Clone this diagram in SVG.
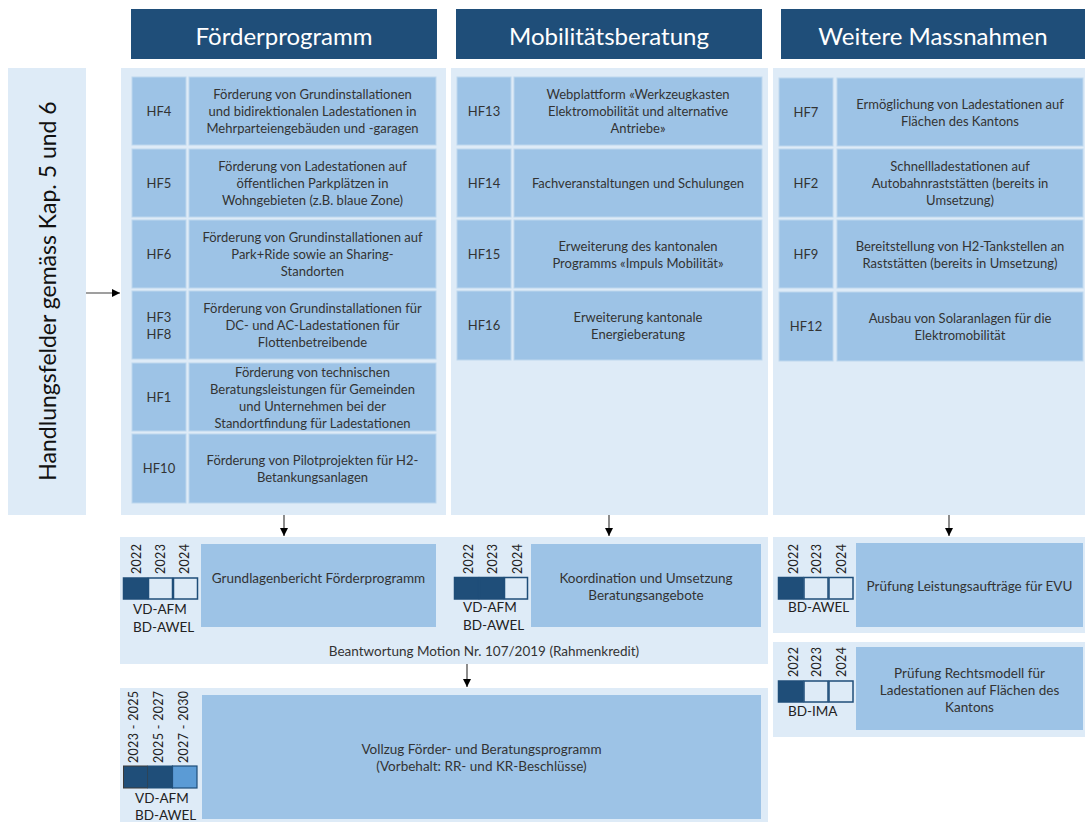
<svg xmlns="http://www.w3.org/2000/svg" width="1085" height="822" viewBox="0 0 1085 822">
<style>
text{font-family:Lato,"Open Sans","Liberation Sans",sans-serif;fill:#333;}
.hdr{fill:#1f4e79;}
.hdrt{fill:#fff;font-size:24px;text-anchor:middle;dominant-baseline:central;}
.pan{fill:#deebf7;}
.cell{fill:#9dc3e6;stroke:#bdd7ee;stroke-width:1;}
.t{font-size:13px;text-anchor:middle;dominant-baseline:central;}
.lab{font-size:13.5px;dominant-baseline:central;fill:#222;}
.yr{font-size:12.5px;dominant-baseline:central;fill:#222;letter-spacing:0.3px;}
.yd{fill:#1f4e79;stroke:#1f4e79;stroke-width:1.5;}
.ye{fill:#deebf7;stroke:#1f4e79;stroke-width:1.5;}
.conn line{stroke:#404040;stroke-width:1.2;}
</style>
<defs>
<marker id="ah" viewBox="0 0 10 10" refX="10" refY="5" markerWidth="8" markerHeight="8" markerUnits="userSpaceOnUse" orient="auto">
<path d="M0,0 L10,5 L0,10 z" fill="#000"/>
</marker>
</defs>

<!-- headers -->
<g id="hdr-foerder"><rect class="hdr" x="131" y="9" width="306" height="50"/><text class="hdrt" x="284" y="35">Förderprogramm</text></g>
<g id="hdr-mob"><rect class="hdr" x="456" y="9" width="306" height="50"/><text class="hdrt" x="609" y="35">Mobilitätsberatung</text></g>
<g id="hdr-weitere"><rect class="hdr" x="781" y="9" width="304" height="50"/><text class="hdrt" x="933" y="35">Weitere Massnahmen</text></g>

<!-- left label -->
<g id="handlungsfelder"><rect class="pan" x="8" y="68" width="78" height="447"/>
<text transform="translate(47,291) rotate(-90)" style="font-size:23px;text-anchor:middle;dominant-baseline:central;fill:#111">Handlungsfelder gemäss Kap. 5 und 6</text></g>

<!-- panels -->
<g id="panel-foerder"><rect class="pan" x="121" y="68" width="325" height="447"/></g>
<g id="panel-mob"><rect class="pan" x="451" y="68" width="317" height="447"/></g>
<g id="panel-weitere"><rect class="pan" x="773" y="68" width="312" height="447"/></g>

<!-- Förderprogramm rows -->
<g id="hf4"><rect class="cell" x="132" y="77" width="54" height="68"/><rect class="cell" x="189" y="77" width="247" height="68"/>
<text class="t" x="159" y="111">HF4</text>
<text class="t" x="312.5" y="94">Förderung von Grundinstallationen</text>
<text class="t" x="312.5" y="111">und bidirektionalen Ladestationen in</text>
<text class="t" x="312.5" y="128">Mehrparteiengebäuden und -garagen</text></g>
<g id="hf5"><rect class="cell" x="132" y="149" width="54" height="68"/><rect class="cell" x="189" y="149" width="247" height="68"/>
<text class="t" x="159" y="183">HF5</text>
<text class="t" x="312.5" y="166">Förderung von Ladestationen auf</text>
<text class="t" x="312.5" y="183">öffentlichen Parkplätzen in</text>
<text class="t" x="312.5" y="200">Wohngebieten (z.B. blaue Zone)</text></g>
<g id="hf6"><rect class="cell" x="132" y="220" width="54" height="68"/><rect class="cell" x="189" y="220" width="247" height="68"/>
<text class="t" x="159" y="254">HF6</text>
<text class="t" x="312.5" y="237">Förderung von Grundinstallationen auf</text>
<text class="t" x="312.5" y="254">Park+Ride sowie an Sharing-</text>
<text class="t" x="312.5" y="271">Standorten</text></g>
<g id="hf3-hf8"><rect class="cell" x="132" y="291" width="54" height="68"/><rect class="cell" x="189" y="291" width="247" height="68"/>
<text class="t" x="159" y="316.5">HF3</text><text class="t" x="159" y="333.5">HF8</text>
<text class="t" x="312.5" y="308">Förderung von Grundinstallationen für</text>
<text class="t" x="312.5" y="325">DC- und AC-Ladestationen für</text>
<text class="t" x="312.5" y="342">Flottenbetreibende</text></g>
<g id="hf1"><rect class="cell" x="132" y="363" width="54" height="68"/><rect class="cell" x="189" y="363" width="247" height="68"/>
<text class="t" x="159" y="397">HF1</text>
<text class="t" x="312.5" y="371.5">Förderung von technischen</text>
<text class="t" x="312.5" y="388.5">Beratungsleistungen für Gemeinden</text>
<text class="t" x="312.5" y="405.5">und Unternehmen bei der</text>
<text class="t" x="312.5" y="422.5">Standortfindung für Ladestationen</text></g>
<g id="hf10"><rect class="cell" x="132" y="434" width="54" height="69"/><rect class="cell" x="189" y="434" width="247" height="69"/>
<text class="t" x="159" y="468">HF10</text>
<text class="t" x="312.5" y="459.5">Förderung von Pilotprojekten für H2-</text>
<text class="t" x="312.5" y="476.5">Betankungsanlagen</text></g>

<!-- Mobilitätsberatung rows -->
<g id="hf13"><rect class="cell" x="457" y="77" width="54" height="68"/><rect class="cell" x="514" y="77" width="248" height="68"/>
<text class="t" x="484" y="111">HF13</text>
<text class="t" x="638" y="94">Webplattform «Werkzeugkasten</text>
<text class="t" x="638" y="111">Elektromobilität und alternative</text>
<text class="t" x="638" y="128">Antriebe»</text></g>
<g id="hf14"><rect class="cell" x="457" y="149" width="54" height="68"/><rect class="cell" x="514" y="149" width="248" height="68"/>
<text class="t" x="484" y="183">HF14</text>
<text class="t" x="638" y="183">Fachveranstaltungen und Schulungen</text></g>
<g id="hf15"><rect class="cell" x="457" y="220" width="54" height="68"/><rect class="cell" x="514" y="220" width="248" height="68"/>
<text class="t" x="484" y="254">HF15</text>
<text class="t" x="638" y="245.5">Erweiterung des kantonalen</text>
<text class="t" x="638" y="262.5">Programms «Impuls Mobilität»</text></g>
<g id="hf16"><rect class="cell" x="457" y="291" width="54" height="69"/><rect class="cell" x="514" y="291" width="248" height="69"/>
<text class="t" x="484" y="325">HF16</text>
<text class="t" x="638" y="316.5">Erweiterung kantonale</text>
<text class="t" x="638" y="333.5">Energieberatung</text></g>

<!-- Weitere Massnahmen rows -->
<g id="hf7"><rect class="cell" x="779" y="78" width="54" height="68"/><rect class="cell" x="837" y="78" width="246" height="68"/>
<text class="t" x="806" y="112">HF7</text>
<text class="t" x="960" y="103.5">Ermöglichung von Ladestationen auf</text>
<text class="t" x="960" y="120.5">Flächen des Kantons</text></g>
<g id="hf2"><rect class="cell" x="779" y="149" width="54" height="68"/><rect class="cell" x="837" y="149" width="246" height="68"/>
<text class="t" x="806" y="183">HF2</text>
<text class="t" x="960" y="166">Schnellladestationen auf</text>
<text class="t" x="960" y="183">Autobahnraststätten (bereits in</text>
<text class="t" x="960" y="200">Umsetzung)</text></g>
<g id="hf9"><rect class="cell" x="779" y="220" width="54" height="68"/><rect class="cell" x="837" y="220" width="246" height="68"/>
<text class="t" x="806" y="254">HF9</text>
<text class="t" x="960" y="245.5">Bereitstellung von H2-Tankstellen an</text>
<text class="t" x="960" y="262.5">Raststätten (bereits in Umsetzung)</text></g>
<g id="hf12"><rect class="cell" x="779" y="292" width="54" height="69"/><rect class="cell" x="837" y="292" width="246" height="69"/>
<text class="t" x="806" y="326">HF12</text>
<text class="t" x="960" y="317.5">Ausbau von Solaranlagen für die</text>
<text class="t" x="960" y="334.5">Elektromobilität</text></g>

<!-- lower: Beantwortung panel -->
<g id="beantwortung"><rect class="pan" x="120" y="537" width="648" height="127"/>
<text class="t" x="484" y="651" style="font-size:13.5px">Beantwortung Motion Nr. 107/2019 (Rahmenkredit)</text></g>

<g id="grundlagenbericht">
<rect class="cell" x="201" y="544" width="235" height="83" style="stroke:none"/>
<text class="t" x="318.5" y="578" style="font-size:13.5px">Grundlagenbericht Förderprogramm</text>
<rect class="yd" x="123.5" y="578" width="24" height="21"/><rect class="ye" x="148.5" y="578" width="24" height="21"/><rect class="ye" x="173.5" y="578" width="24" height="21"/>
<text class="yr" transform="translate(136,574) rotate(-90)">2022</text>
<text class="yr" transform="translate(160,574) rotate(-90)">2023</text>
<text class="yr" transform="translate(184,574) rotate(-90)">2024</text>
<text class="lab" x="133" y="609">VD-AFM</text>
<text class="lab" x="133" y="627">BD-AWEL</text>
</g>

<g id="koordination">
<rect class="cell" x="531" y="544" width="230" height="83" style="stroke:none"/>
<text class="t" x="646" y="578" style="font-size:13.5px">Koordination und Umsetzung</text>
<text class="t" x="646" y="595" style="font-size:13.5px">Beratungsangebote</text>
<rect class="yd" x="454.5" y="577.5" width="24" height="21.5"/><rect class="yd" x="479.5" y="577.5" width="24" height="21.5"/><rect class="ye" x="504.5" y="577.5" width="23" height="21.5"/>
<text class="yr" transform="translate(468,574) rotate(-90)">2022</text>
<text class="yr" transform="translate(492,574) rotate(-90)">2023</text>
<text class="yr" transform="translate(517,574) rotate(-90)">2024</text>
<text class="lab" x="463" y="607">VD-AFM</text>
<text class="lab" x="463" y="625">BD-AWEL</text>
</g>

<g id="pruefung-evu"><rect class="pan" x="773" y="537" width="312" height="96"/>
<rect class="cell" x="856" y="543" width="227" height="84" style="stroke:none"/>
<text class="t" x="969.5" y="586" style="font-size:13.5px">Prüfung Leistungsaufträge für EVU</text>
<rect class="yd" x="778.5" y="577.5" width="24.5" height="21.5"/><rect class="ye" x="804" y="577.5" width="24" height="21.5"/><rect class="ye" x="829" y="577.5" width="24" height="21.5"/>
<text class="yr" transform="translate(793,574) rotate(-90)">2022</text>
<text class="yr" transform="translate(816,574) rotate(-90)">2023</text>
<text class="yr" transform="translate(841,574) rotate(-90)">2024</text>
<text class="lab" x="788" y="607">BD-AWEL</text>
</g>

<g id="pruefung-rechtsmodell"><rect class="pan" x="773" y="642" width="312" height="95"/>
<rect class="cell" x="856" y="647" width="227" height="83" style="stroke:none"/>
<text class="t" x="969.5" y="673" style="font-size:13.5px">Prüfung Rechtsmodell für</text>
<text class="t" x="969.5" y="690" style="font-size:13.5px">Ladestationen auf Flächen des</text>
<text class="t" x="969.5" y="707" style="font-size:13.5px">Kantons</text>
<rect class="yd" x="778.5" y="681" width="24.5" height="21"/><rect class="ye" x="804" y="681" width="24" height="21"/><rect class="ye" x="829" y="681" width="24" height="21"/>
<text class="yr" transform="translate(793,677) rotate(-90)">2022</text>
<text class="yr" transform="translate(816,677) rotate(-90)">2023</text>
<text class="yr" transform="translate(841,677) rotate(-90)">2024</text>
<text class="lab" x="788" y="711">BD-IMA</text>
</g>

<g id="vollzug"><rect class="pan" x="120" y="688" width="648" height="134"/>
<rect class="cell" x="202" y="695" width="559" height="124" style="stroke:none"/>
<text class="t" x="481.5" y="749" style="font-size:13.5px">Vollzug Förder- und Beratungsprogramm</text>
<text class="t" x="481.5" y="766" style="font-size:13.5px">(Vorbehalt: RR- und KR-Beschlüsse)</text>
<rect x="123.5" y="766" width="24" height="22" fill="#1f4e79" stroke="#3a3a3a" stroke-width="1"/>
<rect x="148" y="766" width="24.5" height="22" fill="#1f4e79" stroke="#1f4e79" stroke-width="1"/>
<rect x="172.5" y="766" width="24.5" height="22" fill="#5b9bd5" stroke="#1f4e79" stroke-width="1.2"/>
<text class="yr" transform="translate(133,763) rotate(-90)">2023 - 2025</text>
<text class="yr" transform="translate(158,763) rotate(-90)">2025 - 2027</text>
<text class="yr" transform="translate(183,763) rotate(-90)">2027 - 2030</text>
<text class="lab" x="135" y="798">VD-AFM</text>
<text class="lab" x="135" y="815">BD-AWEL</text>
</g>

<!-- connectors -->
<g id="connectors" class="conn">
<line x1="86" y1="293" x2="120" y2="293" marker-end="url(#ah)"/>
<line x1="284" y1="515" x2="284" y2="536" marker-end="url(#ah)"/>
<line x1="609" y1="515" x2="609" y2="536" marker-end="url(#ah)"/>
<line x1="949" y1="515" x2="949" y2="536" marker-end="url(#ah)"/>
<line x1="467" y1="664" x2="467" y2="687" marker-end="url(#ah)"/>
</g>
</svg>
